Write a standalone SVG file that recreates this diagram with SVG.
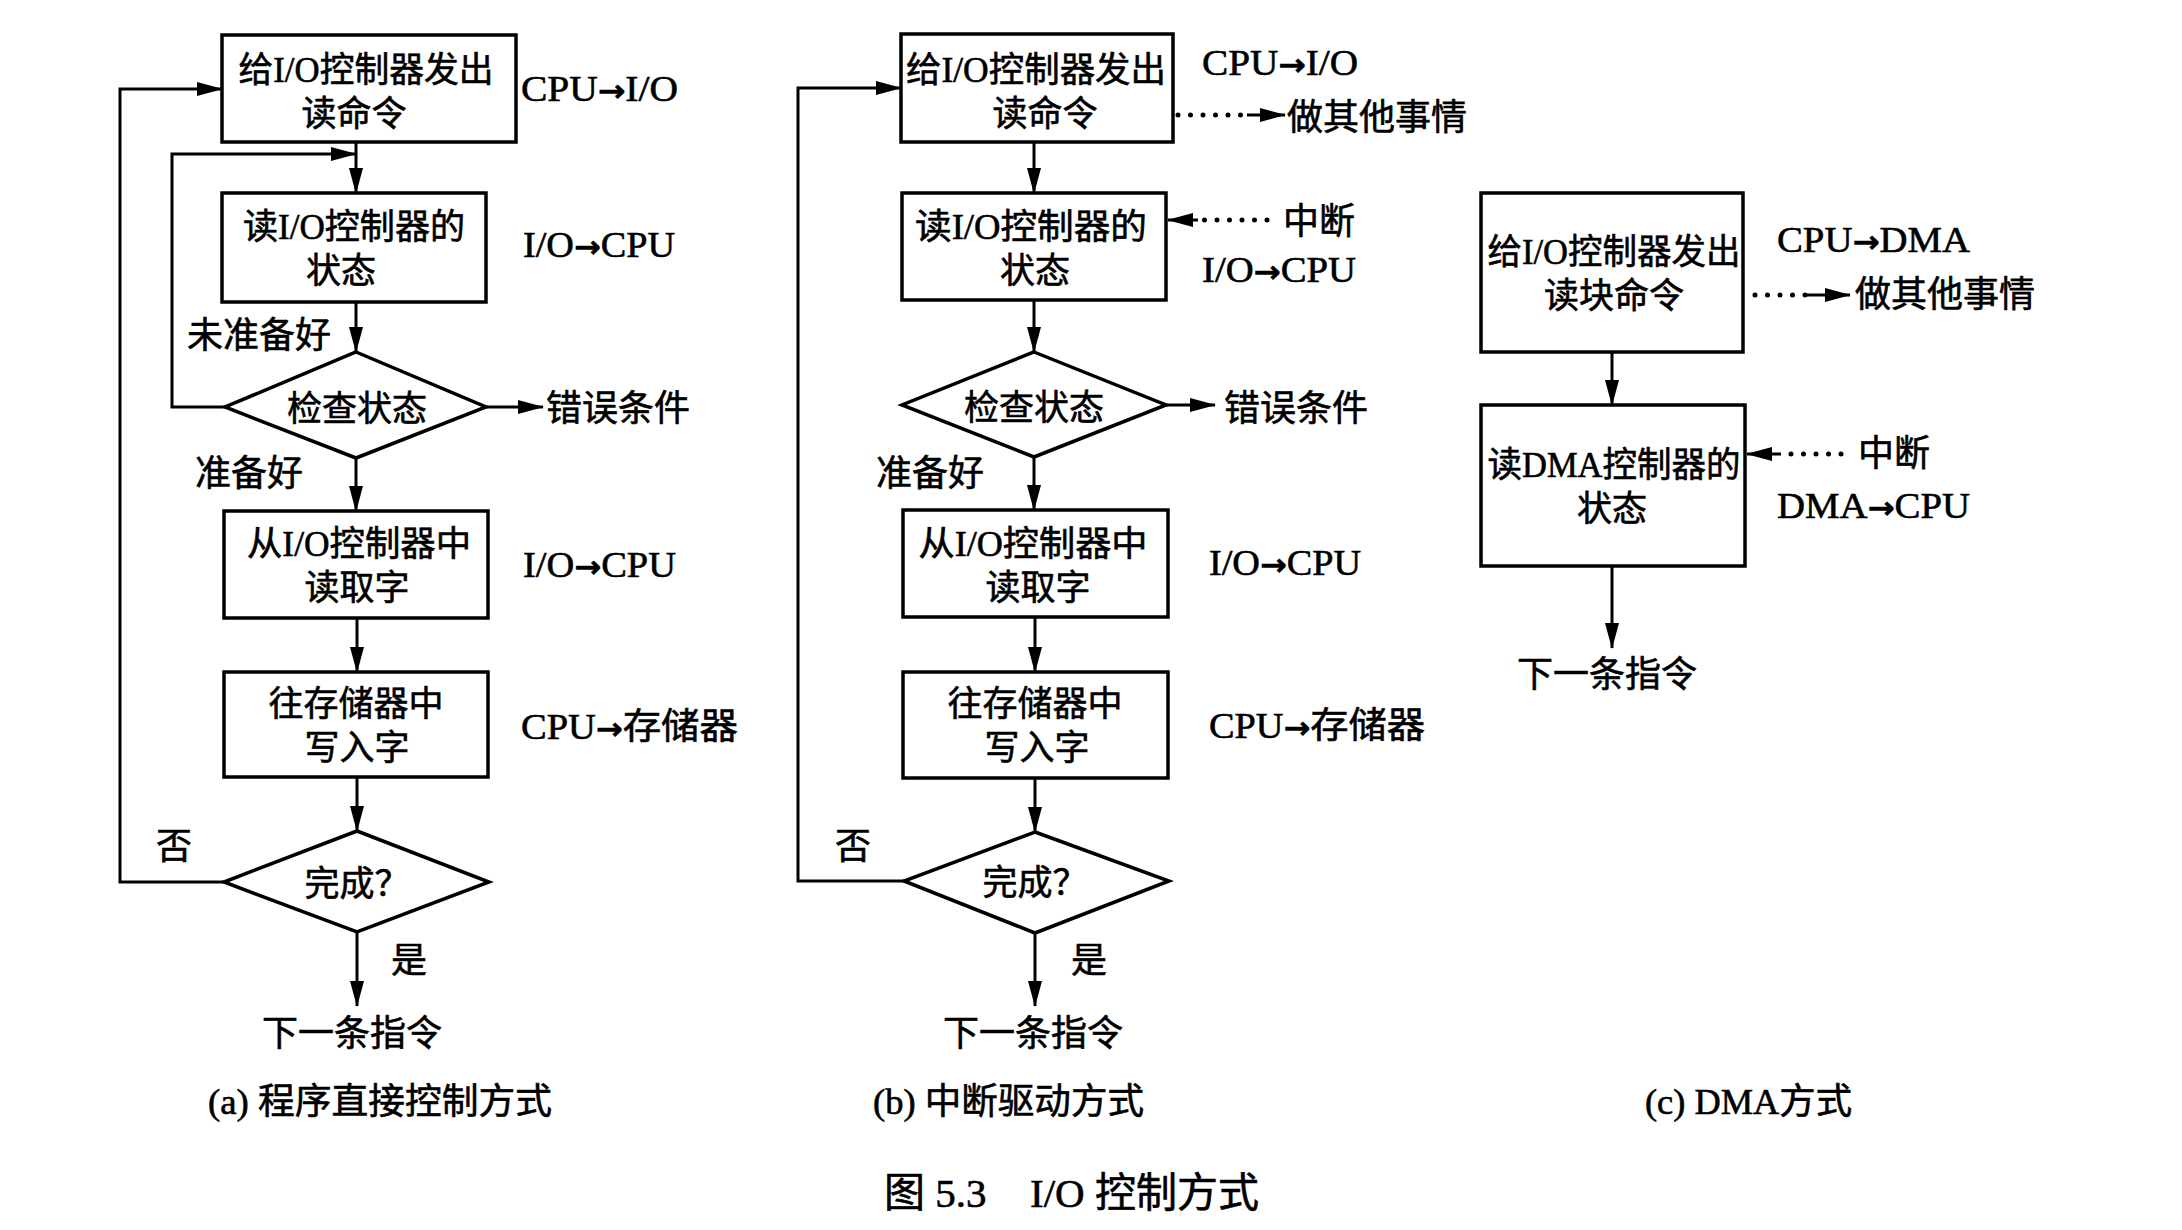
<svg xmlns="http://www.w3.org/2000/svg" width="2182" height="1230" viewBox="0 0 2182 1230">
<style>
.box{fill:#fff;stroke:#000;stroke-width:3.5}
.ln{fill:none;stroke:#000;stroke-width:3}
.dot{fill:none;stroke:#000;stroke-width:5;stroke-linecap:round;stroke-dasharray:0 12.5}
.t{font-family:"Liberation Serif","Noto Sans CJK SC",serif;font-size:35px;fill:#000;stroke:#000;stroke-width:0.6}
.s{font-size:36px}
.m{text-anchor:middle}
.ar{font-family:"DejaVu Sans",sans-serif;font-weight:bold;font-size:30px}
</style>
<defs>
<marker id="ah" markerUnits="userSpaceOnUse" markerWidth="26" markerHeight="14" refX="25" refY="7" orient="auto">
<path d="M0,0 L26,7 L0,14 z" fill="#000"/>
</marker>
</defs>
<rect width="2182" height="1230" fill="#fff"/>

<g id="connectors">
<!-- (a) -->
<path class="ln" d="M356,142 V193" marker-end="url(#ah)"/>
<path class="ln" d="M225,407 H172 V154 H356" marker-end="url(#ah)"/>
<path class="ln" d="M356,302 V352" marker-end="url(#ah)"/>
<path class="ln" d="M486,407 H543" marker-end="url(#ah)"/>
<path class="ln" d="M356,458 V511" marker-end="url(#ah)"/>
<path class="ln" d="M357,618 V672" marker-end="url(#ah)"/>
<path class="ln" d="M357,777 V831" marker-end="url(#ah)"/>
<path class="ln" d="M224,882 H120 V89 H222" marker-end="url(#ah)"/>
<path class="ln" d="M357,932 V1006" marker-end="url(#ah)"/>
<!-- (b) -->
<path class="ln" d="M1034,142 V193" marker-end="url(#ah)"/>
<path class="dot" d="M1178,115 H1250"/>
<path class="ln" d="M1247,115 H1285" marker-end="url(#ah)"/>
<path class="dot" d="M1267,220 H1196"/>
<path class="ln" d="M1198,220 H1168" marker-end="url(#ah)"/>
<path class="ln" d="M1034,300 V352" marker-end="url(#ah)"/>
<path class="ln" d="M1166,405 H1215" marker-end="url(#ah)"/>
<path class="ln" d="M1034,457 V510" marker-end="url(#ah)"/>
<path class="ln" d="M1035,617 V672" marker-end="url(#ah)"/>
<path class="ln" d="M1035,778 V832" marker-end="url(#ah)"/>
<path class="ln" d="M904,881 H798 V88 H901" marker-end="url(#ah)"/>
<path class="ln" d="M1035,933 V1006" marker-end="url(#ah)"/>
<!-- (c) -->
<path class="ln" d="M1612,352 V405" marker-end="url(#ah)"/>
<path class="dot" d="M1755,295 H1808"/>
<path class="ln" d="M1806,295 H1850" marker-end="url(#ah)"/>
<path class="dot" d="M1841,454 H1784"/>
<path class="ln" d="M1781,454 H1747" marker-end="url(#ah)"/>
<path class="ln" d="M1612,566 V648" marker-end="url(#ah)"/>
</g>

<!-- Panel (a) -->
<g id="a_issue">
<rect class="box" x="222" y="35" width="294" height="107"/>
<text class="t m" x="366" y="82" textLength="255" lengthAdjust="spacingAndGlyphs">给I/O控制器发出</text>
<text class="t m" x="354" y="126">读命令</text>
</g>
<g id="a_readstatus">
<rect class="box" x="222" y="193" width="264" height="109"/>
<text class="t m" x="354" y="239" textLength="222" lengthAdjust="spacingAndGlyphs">读I/O控制器的</text>
<text class="t m" x="341" y="283">状态</text>
</g>
<g id="a_check">
<polygon class="box" points="356,352 486,407 356,458 225,407"/>
<text class="t m" x="357" y="421">检查状态</text>
</g>
<g id="a_readword">
<rect class="box" x="224" y="511" width="264" height="107"/>
<text class="t m" x="359" y="556" textLength="224" lengthAdjust="spacingAndGlyphs">从I/O控制器中</text>
<text class="t m" x="357" y="600">读取字</text>
</g>
<g id="a_write">
<rect class="box" x="224" y="672" width="264" height="105"/>
<text class="t m" x="356" y="716">往存储器中</text>
<text class="t m" x="357" y="760">写入字</text>
</g>
<g id="a_done">
<polygon class="box" points="357,831 489,882 357,932 224,882"/>
<text class="t m" x="357" y="896">完成？</text>
</g>
<g id="a_labels">
<text class="t s" x="521" y="101" textLength="157" lengthAdjust="spacingAndGlyphs">CPU<tspan class="ar">→</tspan>I/O</text>
<text class="t s" x="523" y="257" textLength="152" lengthAdjust="spacingAndGlyphs">I/O<tspan class="ar">→</tspan>CPU</text>
<text class="t s" x="523" y="577" textLength="153" lengthAdjust="spacingAndGlyphs">I/O<tspan class="ar">→</tspan>CPU</text>
<text class="t s" x="521" y="739" textLength="217" lengthAdjust="spacingAndGlyphs">CPU<tspan class="ar">→</tspan>存储器</text>
<text class="t s" x="187" y="348">未准备好</text>
<text class="t s" x="546" y="421">错误条件</text>
<text class="t s" x="195" y="486">准备好</text>
<text class="t s" x="156" y="859">否</text>
<text class="t s" x="391" y="973">是</text>
<text class="t s m" x="352" y="1046">下一条指令</text>
<text class="t s" x="208" y="1114" textLength="344" lengthAdjust="spacingAndGlyphs">(a) 程序直接控制方式</text>
</g>

<!-- Panel (b) -->
<g id="b_issue">
<rect class="box" x="901" y="34" width="272" height="108"/>
<text class="t m" x="1036" y="82" textLength="260" lengthAdjust="spacingAndGlyphs">给I/O控制器发出</text>
<text class="t m" x="1045" y="126">读命令</text>
</g>
<g id="b_readstatus">
<rect class="box" x="902" y="193" width="264" height="107"/>
<text class="t m" x="1031" y="239" textLength="232" lengthAdjust="spacingAndGlyphs">读I/O控制器的</text>
<text class="t m" x="1035" y="283">状态</text>
</g>
<g id="b_check">
<polygon class="box" points="1034,352 1166,405 1034,457 902,405"/>
<text class="t m" x="1034" y="420">检查状态</text>
</g>
<g id="b_readword">
<rect class="box" x="903" y="510" width="265" height="107"/>
<text class="t m" x="1033" y="556" textLength="229" lengthAdjust="spacingAndGlyphs">从I/O控制器中</text>
<text class="t m" x="1038" y="600">读取字</text>
</g>
<g id="b_write">
<rect class="box" x="903" y="672" width="265" height="106"/>
<text class="t m" x="1035" y="716">往存储器中</text>
<text class="t m" x="1037" y="760">写入字</text>
</g>
<g id="b_done">
<polygon class="box" points="1035,832 1169,881 1035,933 904,881"/>
<text class="t m" x="1035" y="895">完成？</text>
</g>
<g id="b_labels">
<text class="t s" x="1202" y="75" textLength="156" lengthAdjust="spacingAndGlyphs">CPU<tspan class="ar">→</tspan>I/O</text>
<text class="t s" x="1287" y="130">做其他事情</text>
<text class="t s" x="1283" y="234">中断</text>
<text class="t s" x="1202" y="282" textLength="154" lengthAdjust="spacingAndGlyphs">I/O<tspan class="ar">→</tspan>CPU</text>
<text class="t s" x="1224" y="421">错误条件</text>
<text class="t s" x="876" y="486">准备好</text>
<text class="t s" x="1209" y="575" textLength="152" lengthAdjust="spacingAndGlyphs">I/O<tspan class="ar">→</tspan>CPU</text>
<text class="t s" x="1209" y="738" textLength="216" lengthAdjust="spacingAndGlyphs">CPU<tspan class="ar">→</tspan>存储器</text>
<text class="t s" x="835" y="859">否</text>
<text class="t s" x="1071" y="973">是</text>
<text class="t s m" x="1033" y="1046">下一条指令</text>
<text class="t s" x="873" y="1114" textLength="271" lengthAdjust="spacingAndGlyphs">(b) 中断驱动方式</text>
</g>

<!-- Panel (c) -->
<g id="c_issue">
<rect class="box" x="1481" y="193" width="262" height="159"/>
<text class="t m" x="1614" y="264" textLength="253" lengthAdjust="spacingAndGlyphs">给I/O控制器发出</text>
<text class="t m" x="1614" y="308">读块命令</text>
</g>
<g id="c_readstatus">
<rect class="box" x="1481" y="405" width="264" height="161"/>
<text class="t m" x="1614" y="477" textLength="253" lengthAdjust="spacingAndGlyphs">读DMA控制器的</text>
<text class="t m" x="1612" y="521">状态</text>
</g>
<g id="c_labels">
<text class="t s" x="1777" y="252" textLength="193" lengthAdjust="spacingAndGlyphs">CPU<tspan class="ar">→</tspan>DMA</text>
<text class="t s" x="1855" y="307">做其他事情</text>
<text class="t s" x="1858" y="466">中断</text>
<text class="t s" x="1777" y="518" textLength="193" lengthAdjust="spacingAndGlyphs">DMA<tspan class="ar">→</tspan>CPU</text>
<text class="t s m" x="1607" y="687">下一条指令</text>
<text class="t s" x="1645" y="1114" textLength="207" lengthAdjust="spacingAndGlyphs">(c) DMA方式</text>
</g>

<g id="title">
<text class="t" style="font-size:41px"><tspan x="884" y="1207">图 5.3 </tspan><tspan x="1030" y="1207">I/O 控制方式</tspan></text>
</g>
</svg>
